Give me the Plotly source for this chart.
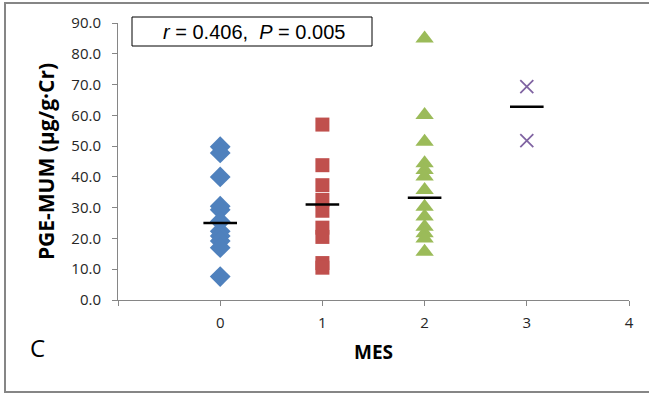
import plotly.graph_objects as go

# Data
mes0 = [49.8, 47.8, 40.0, 30.5, 29.3, 25.5, 22.3, 20.8, 19.2, 17.0, 7.6]
mes1 = [57.0, 43.8, 37.3, 32.5, 29.0, 23.5, 20.5, 12.0, 10.5]
mes2 = [85.0, 60.1, 51.4, 44.4, 42.2, 40.1, 35.7, 30.3, 27.1, 23.8, 21.7, 20.0, 15.7]
mes3 = [69.3, 51.8]
groups = [0, 1, 2, 3]
means = [25.0, 31.0, 33.2, 62.8]
x_ticks = [-1, 0, 1, 2, 3, 4]
x_ticklabels = ["", "0", "1", "2", "3", "4"]
y_ticks = [0, 10, 20, 30, 40, 50, 60, 70, 80, 90]

font_main = "Open Sans, Liberation Sans, sans-serif"

fig = go.Figure()
fig.add_trace(go.Scatter(x=[groups[0]] * len(mes0), y=mes0, mode="markers",
                         marker=dict(symbol="diamond", size=16, color="#4F81BD")))
fig.add_trace(go.Scatter(x=[groups[1]] * len(mes1), y=mes1, mode="markers",
                         marker=dict(symbol="square", size=14, color="#C0504D")))
fig.add_trace(go.Scatter(x=[groups[2]] * len(mes2), y=mes2, mode="markers",
                         marker=dict(symbol="triangle-up", size=16, color="#9BBB59")))
fig.add_trace(go.Scatter(x=[groups[3]] * len(mes3), y=mes3, mode="markers",
                         marker=dict(symbol="x-thin", size=13, color="#8064A2",
                                     line=dict(width=1.8, color="#8064A2"))))
fig.add_trace(go.Scatter(x=groups, y=means, mode="markers",
                         marker=dict(symbol="line-ew", size=24, color="black",
                                     line=dict(width=2.5, color="black"))))

fig.update_layout(
    width=649, height=396,
    margin=dict(l=118, r=20, t=23, b=96),
    paper_bgcolor="white", plot_bgcolor="white",
    showlegend=False,
    font=dict(family=font_main, color="#404040"),
    xaxis=dict(range=[-1, 4], tickvals=x_ticks, ticktext=x_ticklabels,
               showgrid=False, zeroline=False, showline=True, linecolor="#868686",
               linewidth=1, ticks="outside", ticklen=5, tickcolor="#868686",
               tickfont=dict(size=15, color="#262626"), ticklabelstandoff=4,
               title=dict(text="<b>MES</b>", font=dict(size=19, color="black"), standoff=14)),
    yaxis=dict(range=[0, 90], tickvals=y_ticks, tickformat=".1f",
               showgrid=False, zeroline=False, showline=True, linecolor="#868686",
               linewidth=1, ticks="outside", ticklen=5, tickcolor="#868686",
               tickfont=dict(size=15, color="#262626"), ticklabelstandoff=8,
               title=dict(text="<b>PGE-MUM (μg/g·Cr)</b>", font=dict(size=21, color="black"), standoff=10)),
)

# outer chart border
fig.add_shape(type="rect", xref="paper", yref="paper",
              x0=(5 - 118) / 511, x1=(660 - 118) / 511,
              y0=(300 - 392) / 277, y1=(300 - 3) / 277,
              line=dict(color="#868686", width=2), fillcolor="rgba(0,0,0,0)", layer="below")

# stats box
fig.add_shape(type="rect", xref="paper", yref="paper",
              x0=(132 - 118) / 511, x1=(372 - 118) / 511,
              y0=(300 - 46) / 277, y1=(300 - 17) / 277,
              line=dict(color="black", width=1), fillcolor="white")
fig.add_annotation(xref="paper", yref="paper", xanchor="center", yanchor="middle",
                   x=(254 - 118) / 511, y=(300 - 31.5) / 277,
                   text="<i>r</i> = 0.406,  <i>P</i> = 0.005", showarrow=False,
                   font=dict(family="Liberation Sans, Arial, sans-serif", size=20, color="black"))

# panel label
fig.add_annotation(xref="paper", yref="paper", xanchor="center", yanchor="middle",
                   x=(37 - 118) / 511, y=(300 - 347) / 277,
                   text="C", showarrow=False,
                   font=dict(family=font_main, size=24, color="black"))

fig.write_html("out.html", config={"displayModeBar": False},
               post_script="document.body.style.margin='0';")
